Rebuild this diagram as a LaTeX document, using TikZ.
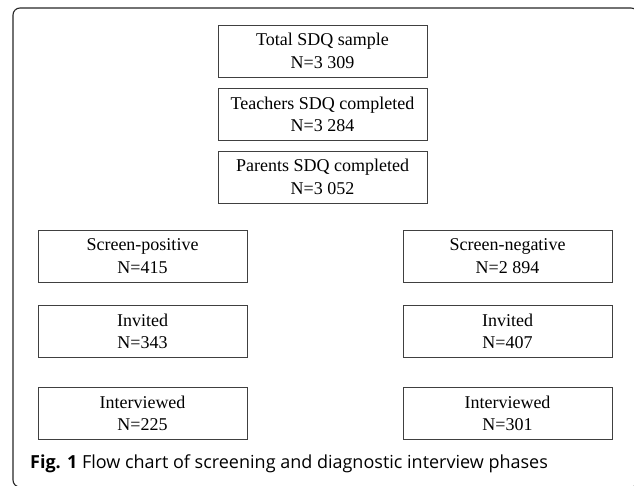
\documentclass[tikz,border=0pt]{standalone}
\usepackage{fontspec}
\setmainfont{Liberation Serif}
\newfontfamily\capfont{Open Sans}
\begin{document}
\begin{tikzpicture}[x=1pt,y=-1pt,
  flowbox/.style={draw=black!75, line width=0.9pt, minimum width=209pt, minimum height=52pt,
    inner sep=0pt, align=center, font=\fontsize{18}{22.5}\selectfont},
  frameline/.style={draw=black!85, line width=1.1pt, rounded corners=7pt}]
\useasboundingbox (0,0) rectangle (634,485);
\begin{scope}
\clip (0,0) rectangle (634,485);
\draw[frameline] (13,8) rectangle (638,487);
\end{scope}
\node[flowbox] (total) at (322.5,51) {Total SDQ sample\\N=3 309};
\node[flowbox] (teach) at (322.5,114.5) {Teachers SDQ completed\\N=3 284};
\node[flowbox] (parent) at (322.5,177) {Parents SDQ completed\\N=3 052};
\node[flowbox] (spos) at (142.5,256) {Screen-positive\\N=415};
\node[flowbox] (sneg) at (507.5,256) {Screen-negative\\N=2 894};
\node[flowbox] (invpos) at (142.5,331.5) {Invited\\N=343};
\node[flowbox] (invneg) at (507.5,331.5) {Invited\\N=407};
\node[flowbox] (intpos) at (142.5,413.5) {Interviewed\\N=225};
\node[flowbox] (intneg) at (507.5,413.5) {Interviewed\\N=301};
\node[anchor=base west, inner sep=0pt, font=\capfont\fontsize{18}{20}\selectfont] (cap) at (30,468)
  {\textbf{Fig. 1} Flow chart of screening and diagnostic interview phases};
\end{tikzpicture}
\end{document}
